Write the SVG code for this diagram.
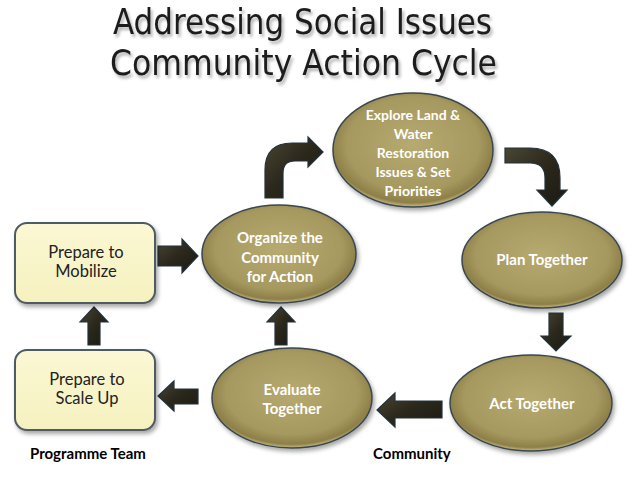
<svg xmlns="http://www.w3.org/2000/svg" width="638" height="479" viewBox="0 0 638 479">
<defs>
<radialGradient id="eg" cx="50%" cy="45%" r="55%">
<stop offset="0" stop-color="#b7aa70"/>
<stop offset="0.75" stop-color="#a69960"/>
<stop offset="0.93" stop-color="#8d7f47"/>
<stop offset="1" stop-color="#c9bd85"/>
</radialGradient>
<linearGradient id="bg" x1="0" y1="0" x2="0" y2="1">
<stop offset="0" stop-color="#fbf8d4"/>
<stop offset="1" stop-color="#f5f1bf"/>
</linearGradient>
<linearGradient id="ag" x1="0" y1="0" x2="1" y2="1">
<stop offset="0" stop-color="#4a4634"/>
<stop offset="0.5" stop-color="#2a271b"/>
<stop offset="1" stop-color="#1c1a12"/>
</linearGradient>
<filter id="sh" x="-10%" y="-10%" width="125%" height="130%">
<feDropShadow dx="2" dy="3" stdDeviation="2" flood-color="#000" flood-opacity="0.35"/>
</filter>
<filter id="tsh" x="-5%" y="-10%" width="110%" height="140%">
<feDropShadow dx="2" dy="3" stdDeviation="1.5" flood-color="#000" flood-opacity="0.3"/>
</filter>
<style>
.ell{fill:url(#eg);stroke:#3a474f;stroke-width:1.5;filter:url(#sh)}
.box{fill:url(#bg);stroke:#4f5a63;stroke-width:2;filter:url(#sh)}
.arr{fill:url(#ag);stroke:#22323c;stroke-width:1.2}
.et{font-family:Lato,"Liberation Sans",sans-serif;font-weight:bold;font-size:15px;fill:#ffffff;text-anchor:middle}
.bt{font-family:Lato,"Liberation Sans",sans-serif;font-size:16.5px;fill:#222;text-anchor:middle}
.lab{font-family:Lato,"Liberation Sans",sans-serif;font-weight:bold;font-size:15px;fill:#000}
.title{font-family:"DejaVu Sans Condensed","DejaVu Sans",sans-serif;font-size:36px;fill:#1c1c1c;filter:url(#tsh)}
</style>
</defs>
<rect width="638" height="479" fill="#ffffff"/>
<g id="title">
<text class="title" x="113" y="34" textLength="379" lengthAdjust="spacingAndGlyphs">Addressing Social Issues</text>
<text class="title" x="110" y="75" textLength="387" lengthAdjust="spacingAndGlyphs">Community Action Cycle</text>
</g>
<g id="connectors">
<path class="arr" d="M158,246 H182 V239 L198,256 L182,273 V266 H158 Z"/>
<path class="arr" d="M198,389 H174 V381 L158,396 L174,411 V404 H198 Z"/>
<path class="arr" d="M442,401 H395 V393 L377,410 L395,427 V418 H442 Z"/>
<path class="arr" d="M88,345 V322 H80 L94,307 L108,322 H100 V345 Z"/>
<path class="arr" d="M275,345 V322 H267 L281,307 L295,322 H287 V345 Z"/>
<path class="arr" d="M549,313 V336 H541 L556,351 L571,336 H563 V313 Z"/>
<path class="arr" d="M265,198 V170 Q265,143 292,143 H308 V137 L323,152 L308,167 V161 H295 Q283,161 283,173 V198 Z"/>
<path class="arr" d="M505,148 H530 Q560,148 560,178 V190 H567 L552,206 L537,190 H545 V178 Q545,163 530,163 H505 Z"/>
</g>
<g id="explore">
<ellipse class="ell" cx="413" cy="150" rx="80" ry="57"/>
<text class="et" style="font-size:14px" x="413" y="120">Explore Land &amp;</text>
<text class="et" style="font-size:14px" x="413" y="139">Water</text>
<text class="et" style="font-size:14px" x="413" y="158">Restoration</text>
<text class="et" style="font-size:14px" x="413" y="177">Issues &amp; Set</text>
<text class="et" style="font-size:14px" x="413" y="196">Priorities</text>
</g>
<g id="organize">
<ellipse class="ell" cx="279" cy="254" rx="77" ry="49"/>
<text class="et" x="280" y="243">Organize the</text>
<text class="et" x="280" y="263">Community</text>
<text class="et" x="280" y="282">for Action</text>
</g>
<g id="plan">
<ellipse class="ell" cx="542" cy="260" rx="80" ry="48"/>
<text class="et" x="542" y="265">Plan Together</text>
</g>
<g id="act">
<ellipse class="ell" cx="531" cy="403" rx="81" ry="48"/>
<text class="et" x="532" y="409">Act Together</text>
</g>
<g id="evaluate">
<ellipse class="ell" cx="292" cy="398" rx="80" ry="50"/>
<text class="et" x="292" y="395">Evaluate</text>
<text class="et" x="292" y="414">Together</text>
</g>
<g id="mobilize">
<rect class="box" x="15" y="223" width="140" height="80" rx="12"/>
<text class="bt" x="86" y="258">Prepare to</text>
<text class="bt" x="86" y="277">Mobilize</text>
</g>
<g id="scaleup">
<rect class="box" x="15" y="350" width="140" height="80" rx="12"/>
<text class="bt" x="87" y="385">Prepare to</text>
<text class="bt" x="87" y="404">Scale Up</text>
</g>
<g id="labels">
<text class="lab" x="30" y="459">Programme Team</text>
<text class="lab" x="373" y="459">Community</text>
</g>
</svg>
